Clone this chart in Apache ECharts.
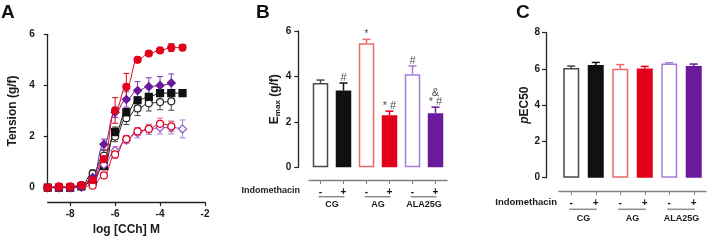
<!DOCTYPE html>
<html><head><meta charset="utf-8">
<script src="https://cdn.jsdelivr.net/npm/echarts@6/dist/echarts.min.js"></script>
<style>html,body{margin:0;padding:0;background:#fff}#c{width:708px;height:241px}</style>
</head><body><div id="c"></div>
<script>
// ---------- Panel A data ----------
const logConc = [-9,-8.5,-8,-7.5,-7,-6.5,-6,-5.5,-5,-4.5,-4,-3.5,-3];
const xTicks = [-8,-6,-4,-2];
const agTension      = [0,0.05,0.05,0.1,0.3,1.12,3.02,3.94,5.0,5.25,5.37,5.48,5.48];
const agSem          = [0,0,0,0.05,0.1,0.15,0.5,0.53,0.1,0.08,0.08,0.15,0.12];
const agIndoTension  = [0,0,0,0.05,0.08,0.48,1.3,1.9,2.2,2.3,2.5,2.4,null];
const agIndoSem      = [0,0,0,0.03,0.05,0.1,0.15,0.15,0.15,0.15,0.22,0.2,null];
const cgTension      = [0,0,0,0.05,0.25,0.85,2.17,2.95,3.42,3.55,3.7,3.7,3.7];
const cgSem          = [0,0,0,0.03,0.1,0.15,0.2,0.15,0.12,0.1,0.1,0.1,0.1];
const cgIndoTension  = [0,0,0,0.1,0.55,1.25,2.0,2.72,3.1,3.3,3.35,3.38,null];
const cgIndoSem      = [0,0,0,0.05,0.15,0.2,0.2,0.25,0.28,0.3,0.3,0.35,null];
const alaTension     = [0,0,0,0.02,0.4,1.7,2.95,3.45,3.8,3.95,4.0,4.1,null];
const alaSem         = [0,0,0,0.03,0.1,0.2,0.2,0.3,0.35,0.35,0.35,0.35,null];
const alaIndoTension = [0,0,0,0.05,0.3,0.9,1.45,1.87,2.15,2.28,2.35,2.35,2.3];
const alaIndoSem     = [0,0,0,0.03,0.1,0.15,0.15,0.15,0.2,0.2,0.25,0.25,0.35];

// ---------- Panel B / C data ----------
const indoLabels = ['-','+','-','+','-','+'];
const groupCats = ['CG','AG','ALA25G'];
const emaxValues = [3.71,3.38,5.46,2.29,4.10,2.38];
const emaxSem    = [0.13,0.33,0.17,0.18,0.36,0.27];
const emaxMarks  = ['','#','*','* #','#','&\n* #'];
const pec50Values = [6.05,6.22,6.01,6.02,6.30,6.16];
const pec50Sem    = [0.11,0.14,0.23,0.12,0.04,0.11];

// ---------- styles ----------
const FONT = "'Liberation Sans', Arial, sans-serif";
const TXT = '#1a1a1a';
const RED = '#e2001a', RED_L = '#e86a6a', PUR = '#6a1a9a', PUR_L = '#a57dd8', BLK = '#111111', GRY = '#4a4a4a';
const barFill   = ['#ffffff', BLK, '#ffffff', RED, '#ffffff', PUR];
const barBorder = [GRY, BLK, RED_L, RED, PUR_L, PUR];

const chart = echarts.init(document.getElementById('c'), null, {renderer:'canvas'});

function pairs(vals){ const out=[]; vals.forEach((v,i)=>{ if(v!==null) out.push([logConc[i], v]); }); return out; }
function triples(vals, sems){ const out=[]; vals.forEach((v,i)=>{ if(v!==null) out.push([logConc[i], v, sems[i]]); }); return out; }

function lineSeries(name, vals, symbol, fill, stroke, z){
  return {name, type:'line', xAxisIndex:0, yAxisIndex:0, data:pairs(vals), smooth:0.5, smoothMonotone:'x',
    symbol, symbolSize: symbol==='diamond'?8:7, showSymbol:true, z,
    lineStyle:{color:stroke, width:1}, itemStyle:{color:fill, borderColor:stroke, borderWidth:1.2},
    emphasis:{disabled:true}, animation:false};
}
function errSeriesA(vals, sems, color, z){
  return {type:'custom', xAxisIndex:0, yAxisIndex:0, data:triples(vals, sems), z, animation:false,
    renderItem(params, api){
      const x=api.value(0), y=api.value(1), s=api.value(2);
      if(!s) return null;
      const t=api.coord([x,y+s]), b=api.coord([x,y-s]); const hw=3;
      const st={stroke:color, lineWidth:1};
      return {type:'group', children:[
        {type:'line', shape:{x1:t[0],y1:t[1],x2:b[0],y2:b[1]}, style:st},
        {type:'line', shape:{x1:t[0]-hw,y1:t[1],x2:t[0]+hw,y2:t[1]}, style:st},
        {type:'line', shape:{x1:b[0]-hw,y1:b[1],x2:b[0]+hw,y2:b[1]}, style:st}]};
    }};
}
function barErr(xi, yi, vals, sems){
  return {type:'custom', xAxisIndex:xi, yAxisIndex:yi, z:1, animation:false,
    data: vals.map((v,i)=>[i, v, sems[i]]),
    renderItem(params, api){
      const i=params.dataIndex;
      const base=api.coord([api.value(0), api.value(1)]);
      const top=api.coord([api.value(0), api.value(1)+api.value(2)]);
      const st={stroke:barBorder[i], lineWidth:1.5}; const hw=4;
      return {type:'group', children:[
        {type:'line', shape:{x1:base[0],y1:base[1],x2:top[0],y2:top[1]}, style:st},
        {type:'line', shape:{x1:top[0]-hw,y1:top[1],x2:top[0]+hw,y2:top[1]}, style:st}]};
    }};
}
function barSeries(xi, yi, vals, bw){
  return {type:'bar', xAxisIndex:xi, yAxisIndex:yi, barWidth:bw, z:2, animation:false,
    data: vals.map((v,i)=>({value:v, itemStyle:{color:barFill[i], borderColor:barBorder[i], borderWidth:1.5}})),
    emphasis:{disabled:true}};
}

const axLine = {lineStyle:{color:'#222', width:1.3}};
const tickLbl = {fontFamily:FONT, fontWeight:'bold', fontSize:10, color:TXT};

function catAxis(gi, offset, nameGap, nameSize){
  return {gridIndex:gi, type:'category', data:indoLabels, offset,
    axisLine:{show:true, onZero:false, lineStyle:{color:'#808080', width:1.3}},
    axisTick:{show:true, alignWithLabel:true, length:4, lineStyle:{color:'#808080'}},
    axisLabel:Object.assign({margin:7, interval:0}, tickLbl),
    name:'Indomethacin', nameLocation:'start', nameGap,
    nameTextStyle:{fontFamily:FONT, fontWeight:'bold', fontSize:nameSize, color:TXT, verticalAlign:'top', padding:[6,0,0,0]},
    splitLine:{show:false}};
}
function valAxis(gi, max, offset, margin, name, nameGap, rich){
  return {gridIndex:gi, type:'value', min:0, max, interval:2, offset,
    axisLine:Object.assign({show:true, onZero:false}, axLine),
    axisTick:{show:true, length:4, lineStyle:{color:'#222', width:1.2}},
    axisLabel:Object.assign({margin}, tickLbl),
    splitLine:{show:false},
    name, nameLocation:'middle', nameGap,
    nameTextStyle:{fontFamily:FONT, fontWeight:'bold', fontSize:12, color:TXT, rich}};
}

const option = {
  backgroundColor:'#fff',
  animation:false,
  textStyle:{fontFamily:FONT},
  title:[
    {text:'A', left:1, top:3, padding:0, textStyle:{fontFamily:FONT, fontSize:19, fontWeight:'bold', color:'#111'}},
    {text:'B', left:256, top:3, padding:0, textStyle:{fontFamily:FONT, fontSize:19, fontWeight:'bold', color:'#111'}},
    {text:'C', left:516, top:3, padding:0, textStyle:{fontFamily:FONT, fontSize:19, fontWeight:'bold', color:'#111'}}
  ],
  grid:[
    {left:47.7, top:34.3, width:157.3, height:156},
    {left:309, top:31, width:138, height:136.3},
    {left:559, top:32.7, width:147, height:145}
  ],
  xAxis:[
    {gridIndex:0, type:'value', min:-9, max:-2, offset:14.4,
     axisLine:{show:true, onZero:false, lineStyle:{color:'#222', width:1.3}},
     axisTick:{show:true, customValues:xTicks, length:4, lineStyle:{color:'#222', width:1.2}},
     axisLabel:Object.assign({customValues:xTicks, margin:7}, tickLbl),
     splitLine:{show:false},
     name:'log [CCh] M', nameLocation:'middle', nameGap:19,
     nameTextStyle:{fontFamily:FONT, fontWeight:'bold', fontSize:12, color:TXT}},
    catAxis(1, 12.7, 9, 9),
    catAxis(2, 13.3, 2, 9.5)
  ],
  yAxis:[
    valAxis(0, 6, 0, 13, 'Tension (g/f)', 29, undefined),
    valAxis(1, 6, 10.7, 7, '{e|E}{m|max}{e| (g/f)}', 12,
      {e:{fontFamily:FONT, fontWeight:'bold', fontSize:12, color:TXT},
       m:{fontFamily:FONT, fontWeight:'bold', fontSize:8, color:TXT, padding:[6,0,0,0]}}),
    valAxis(2, 8, 13, 6, '{i|p}{n|EC50}', 8,
      {i:{fontFamily:FONT, fontWeight:'bold', fontStyle:'italic', fontSize:12, color:TXT},
       n:{fontFamily:FONT, fontWeight:'bold', fontSize:12, color:TXT}})
  ],
  series:[
    errSeriesA(cgIndoTension, cgIndoSem, '#444', 1),
    errSeriesA(cgTension, cgSem, BLK, 1),
    errSeriesA(alaIndoTension, alaIndoSem, PUR_L, 1),
    errSeriesA(agIndoTension, agIndoSem, RED_L, 1),
    errSeriesA(alaTension, alaSem, '#7b35b5', 1),
    errSeriesA(agTension, agSem, RED, 1),
    lineSeries('CG + Indomethacin', cgIndoTension, 'circle', '#ffffff', '#222', 3),
    lineSeries('CG', cgTension, 'rect', BLK, BLK, 3),
    lineSeries('ALA25G + Indomethacin', alaIndoTension, 'diamond', '#ffffff', '#8a4fc8', 3),
    lineSeries('AG + Indomethacin', agIndoTension, 'circle', '#ffffff', RED, 3),
    lineSeries('ALA25G', alaTension, 'diamond', PUR, PUR, 4),
    lineSeries('AG', agTension, 'circle', RED, RED, 4),
    barSeries(1, 1, emaxValues, 15.5),
    barErr(1, 1, emaxValues, emaxSem),
    {type:'scatter', xAxisIndex:1, yAxisIndex:1, symbolSize:0, z:5, animation:false, silent:true,
     data: emaxValues.map((v,i)=>[i, v+emaxSem[i]]),
     label:{show:true, position:'top', distance:1, color:TXT, fontFamily:FONT, fontSize:11, lineHeight:9,
       formatter:(p)=>emaxMarks[p.dataIndex]}},
    barSeries(2, 2, pec50Values, 16),
    barErr(2, 2, pec50Values, pec50Sem)
  ]
};

chart.setOption(option);

// group labels and underlines positioned from the category scales
function groupGraphics(xi, yi, offset, dyLine, dyText){
  const els=[];
  const baseY = chart.convertToPixel({yAxisIndex:yi}, 0) + offset;
  groupCats.forEach((g, k)=>{
    const x1 = chart.convertToPixel({xAxisIndex:xi}, 2*k);
    const x2 = chart.convertToPixel({xAxisIndex:xi}, 2*k+1);
    els.push({type:'line', shape:{x1:x1-2, y1:baseY+dyLine, x2:x2+1, y2:baseY+dyLine},
      style:{stroke:'#8c8c8c', lineWidth:1.5}, silent:true});
    els.push({type:'text', x:(x1+x2)/2, y:baseY+dyText, silent:true,
      style:{text:g, fill:TXT, fontFamily:FONT, fontWeight:'bold', fontSize:9, align:'center', verticalAlign:'middle'}});
  });
  return els;
}
chart.setOption({graphic:{elements:[].concat(groupGraphics(1,1,12.7,16.7,25), groupGraphics(2,2,13.3,18.3,27.3))}});
</script></body></html>
